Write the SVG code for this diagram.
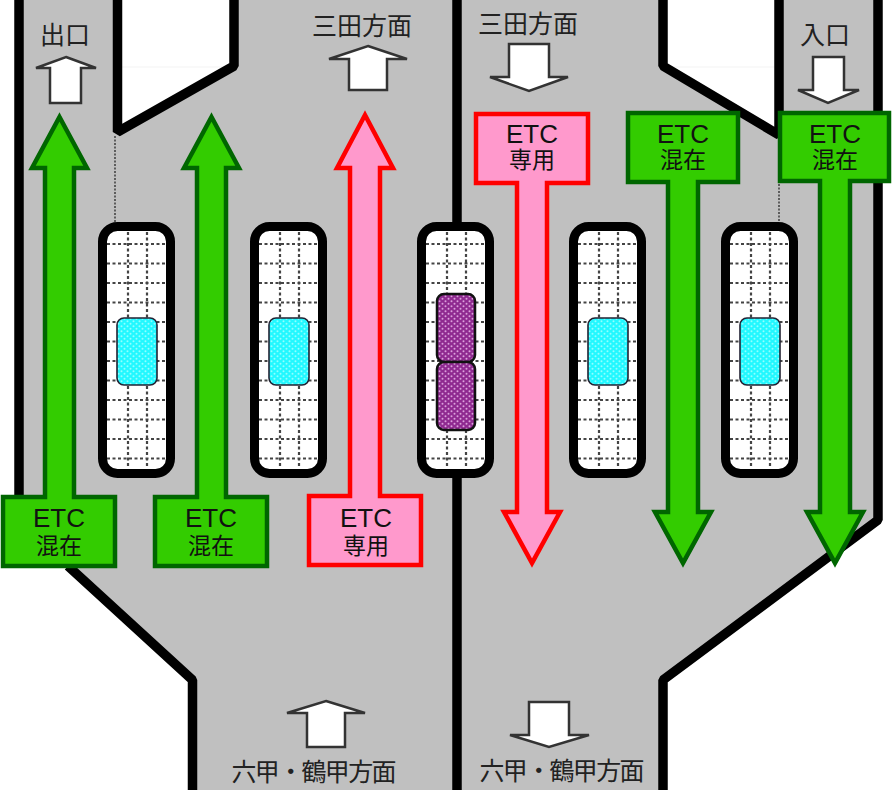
<svg xmlns="http://www.w3.org/2000/svg" width="894" height="790" viewBox="0 0 894 790">
<style>
.wall{fill:none;stroke:#000;stroke-width:9.5;stroke-linejoin:bevel}
.isl{fill:#fff;stroke:#000;stroke-width:9}
.grid{fill:none;stroke:#444;stroke-width:2.2;stroke-dasharray:3 2.5}
.dot{fill:none;stroke:#444;stroke-width:1.6;stroke-dasharray:2 1.5}
.g{fill:#33cc00;stroke:#006600;stroke-width:4.5;stroke-linejoin:miter}
.p{fill:#ff99cc;stroke:#ff0000;stroke-width:4.5;stroke-linejoin:miter}
.w{fill:#fff;stroke:#333;stroke-width:2.5;stroke-linejoin:miter}
.cy{fill:url(#cyan);stroke:#223;stroke-width:1.6}
.pu{fill:url(#purple);stroke:#111;stroke-width:2.5}
text{font-family:"Noto Sans CJK JP","Liberation Sans",sans-serif;text-anchor:middle;fill:#222}
.lb{font-size:25px}
.etc{font-family:"Liberation Sans",sans-serif;font-size:26px;fill:#111}
.cj{font-size:23px;fill:#111}
</style>
<defs>
<pattern id="cyan" width="6" height="5" patternUnits="userSpaceOnUse"><rect width="6" height="5" fill="#22f8ff"/><circle cx="1.5" cy="1.2" r="1" fill="#90ffff"/><circle cx="4.5" cy="3.7" r="1" fill="#90ffff"/></pattern>
<pattern id="purple" width="6" height="5" patternUnits="userSpaceOnUse"><rect width="6" height="5" fill="#8f2a90"/><circle cx="1.5" cy="1.2" r="1" fill="#dca0dc"/><circle cx="4.5" cy="3.7" r="1" fill="#dca0dc"/></pattern>
<g id="cell">
<rect class="isl" x="4.500" y="4.500" width="68" height="247" rx="15"/>
<path class="grid" d="M30 10V246M49 10V246M9 22H68M9 41.500H68M9 61H68M9 80.500H68M9 100H68M9 119.500H68M9 139H68M9 158.500H68M9 178H68M9 197.500H68M9 217H68M9 236.500H68"/>
</g>
</defs>
<g id="road">
<path fill="#c0c0c0" d="M19 0V521L192 680V790H663V680L880 520V0H779V135L663 66V0H234V66L118 132V0Z"/>
<path d="M122 67H230M667 67H775" stroke="#f7f7f7" stroke-width="1.500" fill="none"/>
</g>
<g id="walls">
<path class="wall" d="M19 0V500"/>
<path class="wall" d="M117.500 0V132L234 66V0"/>
<path class="wall" d="M68 566L192.500 680V790"/>
<path class="wall" d="M457 0V790"/>
<path class="wall" d="M663 0V66L779 135V0"/>
<path class="wall" d="M878 0V520L663 680V790"/>
</g>
<g id="dotted">
<path class="dot" d="M115 136V222M779 184V222"/>
</g>
<g id="island1"><use href="#cell" x="98" y="222"/><rect class="cy" x="117" y="318" width="40" height="67" rx="7"/></g>
<g id="island2"><use href="#cell" x="250" y="222"/><rect class="cy" x="269" y="318" width="40" height="67" rx="7"/></g>
<g id="island3"><use href="#cell" x="417" y="222"/><rect class="pu" x="437" y="294" width="38" height="68" rx="7"/><rect class="pu" x="437" y="362" width="38" height="68" rx="7"/></g>
<g id="island4"><use href="#cell" x="569" y="222"/><rect class="cy" x="588" y="318" width="40" height="67" rx="7"/></g>
<g id="island5"><use href="#cell" x="721" y="222"/><rect class="cy" x="740" y="318" width="40" height="67" rx="7"/></g>
<g id="lane1">
<path class="g" d="M59.500 117L87 168H74V497H115V566H3V497H45V168H32Z"/>
<text class="etc" x="59" y="527">ETC</text><text class="cj" x="59" y="554">混在</text>
</g>
<g id="lane2">
<path class="g" d="M211.500 117L239 168H226V497H267V566H155V497H197V168H184Z"/>
<text class="etc" x="211" y="527">ETC</text><text class="cj" x="211" y="554">混在</text>
</g>
<g id="lane3">
<path class="p" d="M365 115L393 168H380V496H421V565H309V496H350V168H337Z"/>
<text class="etc" x="366" y="527">ETC</text><text class="cj" x="366" y="554">専用</text>
</g>
<g id="lane4">
<path class="p" d="M476 114H588V183H547V512H560L532 563L504 512H517V183H476Z"/>
<text class="etc" x="532" y="143">ETC</text><text class="cj" x="532" y="168">専用</text>
</g>
<g id="lane5">
<path class="g" d="M628 113H738V182H698V512H711L683 563L655 512H668V182H628Z"/>
<text class="etc" x="683" y="143">ETC</text><text class="cj" x="683" y="168">混在</text>
</g>
<g id="lane6">
<path class="g" d="M780 113H889V181H850V512H863L835 563L807 512H820V181H780Z"/>
<text class="etc" x="835" y="143">ETC</text><text class="cj" x="835" y="168">混在</text>
</g>
<g id="exit"><text class="lb" x="65" y="44">出口</text><path class="w" d="M66 57L96 68H81V103H50V68H36Z"/></g>
<g id="entry"><text class="lb" x="825" y="44">入口</text><path class="w" d="M813 57H844V90H859L828 103L798 90H813Z"/></g>
<g id="sanda-up"><text class="lb" x="362" y="35" textLength="100">三田方面</text><path class="w" d="M368 46L407 59H387V90H349V59H329Z"/></g>
<g id="sanda-down"><text class="lb" x="528" y="33" textLength="100">三田方面</text><path class="w" d="M509 44H549V77H568L529 91L490 77H509Z"/></g>
<g id="rokko-up"><path class="w" d="M326 701L365 713H345V747H307V713H287Z"/><text class="lb" x="314" y="781" textLength="165">六甲・鶴甲方面</text></g>
<g id="rokko-down"><path class="w" d="M529 702H569V735H589L549 747L510 735H529Z"/><text class="lb" x="562" y="780" textLength="165">六甲・鶴甲方面</text></g>
</svg>
